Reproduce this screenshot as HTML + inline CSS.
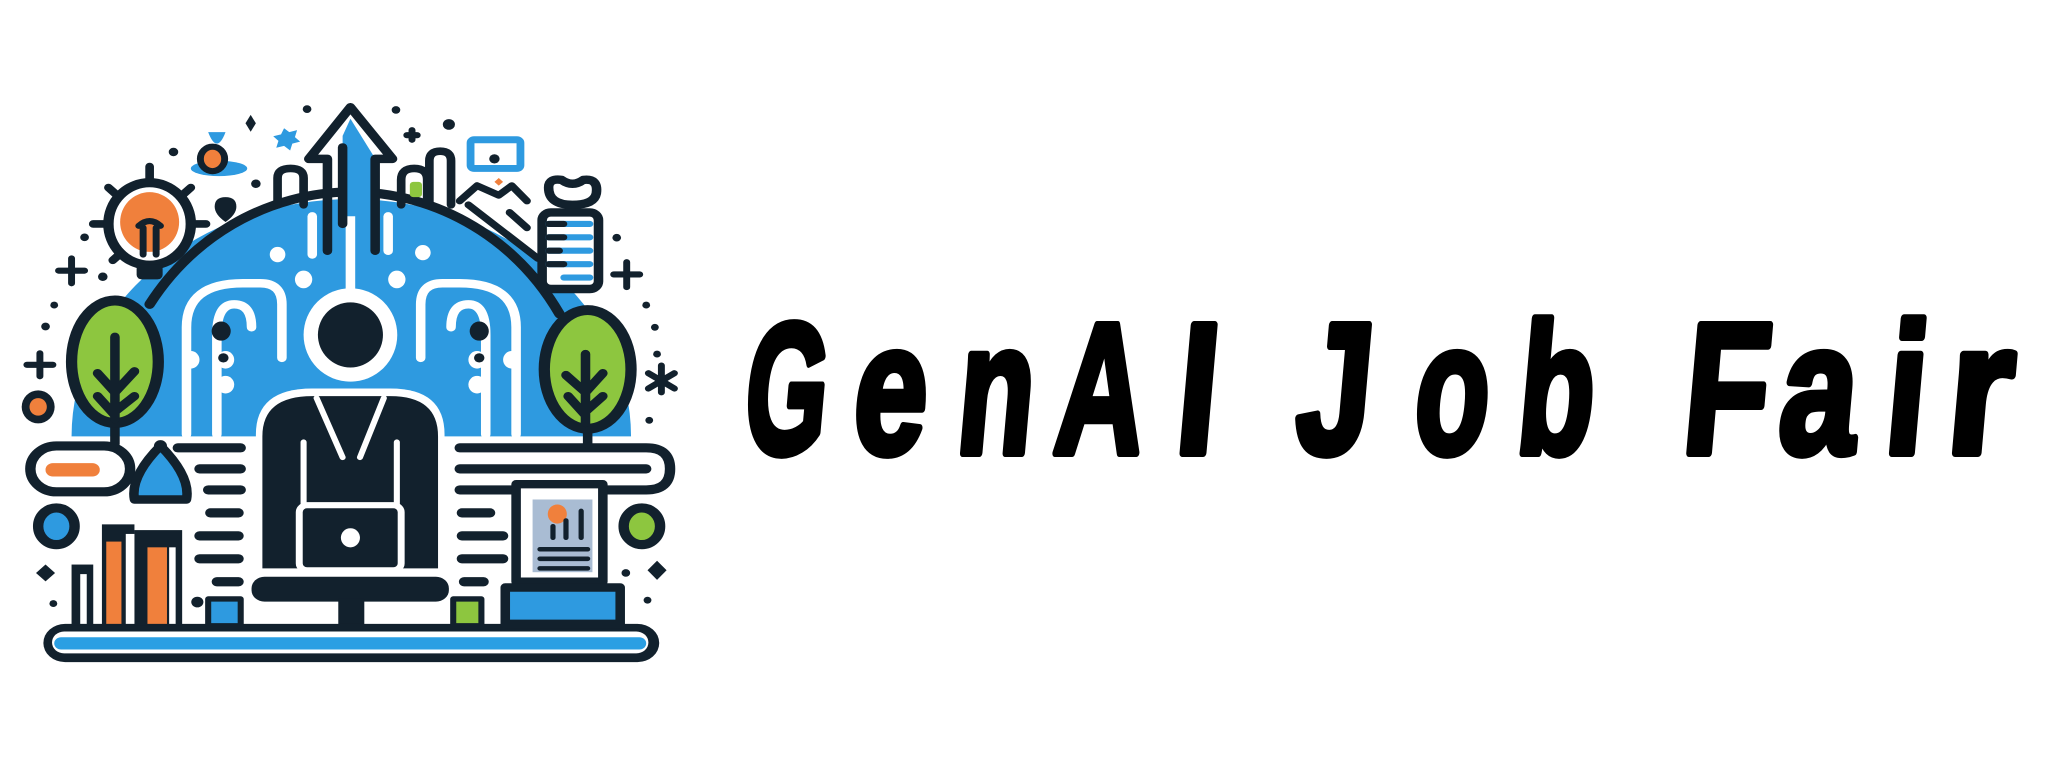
<!DOCTYPE html>
<html><head><meta charset="utf-8"><style>
html,body{margin:0;padding:0;background:#fff;}
svg{display:block;}
</style></head><body>
<svg width="2048" height="767" viewBox="0 0 2048 767" xmlns="http://www.w3.org/2000/svg">
<rect width="2048" height="767" fill="#fff"/>
<g transform="translate(0,90) scale(0.4337,0.3827)" stroke-linecap="round" stroke-linejoin="round">
  <path d="M165 905 A645 620 0 0 1 1455 905 Z" fill="#2e9ae0"/>
  <path d="M345 560 A560 660 0 0 1 1290 585" fill="none" stroke="#12212d" stroke-width="24"/>
  <g fill="none" stroke="#fff" stroke-width="22">
    <path d="M430 900 V620 Q430 505 560 505 H600 Q650 505 650 560 V700"/>
    <path d="M500 900 V640 Q500 560 540 560 Q580 560 580 620"/>
    <path d="M1190 900 V620 Q1190 505 1060 505 H1020 Q970 505 970 560 V700"/>
    <path d="M1120 900 V640 Q1120 560 1080 560 Q1040 560 1040 620"/>
    <path d="M808 330 V520"/>
    <path d="M720 330 V430"/><path d="M895 330 V420"/>
  </g>
  <g fill="#fff">
    <ellipse cx="700" cy="495" rx="20" ry="23"/><ellipse cx="915" cy="495" rx="20" ry="23"/>
    <ellipse cx="640" cy="430" rx="18" ry="20"/><ellipse cx="975" cy="425" rx="18" ry="20"/>
    <ellipse cx="440" cy="705" rx="20" ry="23"/><ellipse cx="520" cy="705" rx="20" ry="23"/><ellipse cx="520" cy="770" rx="20" ry="23"/>
    <ellipse cx="1100" cy="705" rx="20" ry="23"/><ellipse cx="1180" cy="705" rx="20" ry="23"/><ellipse cx="1100" cy="770" rx="20" ry="23"/>
  </g>
  <g fill="#12212d"><ellipse cx="510" cy="630" rx="22" ry="25"/><ellipse cx="1105" cy="630" rx="22" ry="25"/><circle cx="515" cy="700" r="12"/><circle cx="1105" cy="700" r="12"/></g>
  <ellipse cx="808" cy="640" rx="108" ry="122" fill="#fff"/>
  <ellipse cx="808" cy="640" rx="75" ry="85" fill="#12212d"/>
  <path d="M590 1260 V900 Q590 780 720 780 H900 Q1025 780 1025 900 V1260 Z" fill="#fff"/>
  <path d="M605 1250 V905 Q605 800 720 800 H900 Q1010 800 1010 905 V1250 Z" fill="#12212d"/>
  <path d="M730 805 L790 960 M885 805 L830 960 M700 920 V1080 M915 920 V1080" stroke="#fff" stroke-width="14" fill="none"/>
  <rect x="690" y="1085" width="235" height="170" rx="18" fill="#12212d" stroke="#fff" stroke-width="16"/>
  <ellipse cx="808" cy="1170" rx="22" ry="25" fill="#fff"/>
  <rect x="580" y="1272" width="455" height="65" rx="30" fill="#12212d"/>
  <rect x="780" y="1330" width="60" height="70" fill="#12212d"/>
  <rect x="100" y="1395" width="1420" height="100" rx="50" fill="#12212d"/>
  <rect x="120" y="1415" width="1375" height="57" rx="28" fill="#fff"/>
  <rect x="125" y="1430" width="1365" height="32" rx="16" fill="#2a9fe3"/>
  <rect x="70" y="930" width="230" height="120" rx="60" fill="#fff" stroke="#12212d" stroke-width="24"/>
  <rect x="105" y="975" width="125" height="35" rx="17" fill="#f0803c"/>
  <path d="M1060 935 H1490 Q1545 935 1545 990 Q1545 1045 1490 1045 H1060 M1060 990 H1490" fill="none" stroke="#12212d" stroke-width="24"/>
  <g stroke="#12212d" stroke-width="24" fill="none">
    <path d="M410 935 H555 M460 990 H555 M480 1045 H555 M485 1105 H550 M460 1165 H550 M460 1225 H550 M500 1285 H550"/>
    <path d="M1065 1105 H1130 M1065 1165 H1160 M1065 1225 H1160 M1070 1285 H1115"/>
  </g>
  <path d="M370 930 Q300 1010 310 1070 H430 Q440 1010 370 930 Z" fill="#2e9ae0" stroke="#12212d" stroke-width="22"/>
  <circle cx="370" cy="930" r="15" fill="#12212d"/>
  <g fill="#12212d">
    <rect x="165" y="1240" width="50" height="160"/>
    <rect x="235" y="1135" width="75" height="265"/>
    <rect x="310" y="1150" width="110" height="250"/>
  </g>
  <rect x="185" y="1265" width="15" height="130" fill="#fff"/>
  <rect x="245" y="1180" width="35" height="215" fill="#f0803c"/>
  <rect x="340" y="1195" width="45" height="200" fill="#f0803c"/>
  <rect x="290" y="1160" width="20" height="235" fill="#fff"/>
  <rect x="390" y="1195" width="15" height="200" fill="#fff"/>
  <rect x="480" y="1330" width="75" height="70" fill="#2e9ae0" stroke="#12212d" stroke-width="14"/>
  <rect x="1045" y="1330" width="65" height="70" fill="#8dc63f" stroke="#12212d" stroke-width="14"/>
  <rect x="1190" y="1030" width="200" height="255" fill="#fff" stroke="#12212d" stroke-width="22"/>
  <rect x="1228" y="1070" width="138" height="190" fill="#a9bcd3"/>
  <ellipse cx="1285" cy="1108" rx="22" ry="25" fill="#f0803c"/>
  <path d="M1275 1170 V1140 M1305 1170 V1125 M1340 1170 V1100 M1245 1200 H1355 M1245 1225 H1355 M1245 1250 H1355" stroke="#12212d" stroke-width="12"/>
  <rect x="1165" y="1300" width="265" height="95" fill="#2e9ae0" stroke="#12212d" stroke-width="22"/>
  <ellipse cx="130" cy="1140" rx="42" ry="48" fill="#2e9ae0" stroke="#12212d" stroke-width="24"/>
  <ellipse cx="1480" cy="1140" rx="42" ry="48" fill="#8dc63f" stroke="#12212d" stroke-width="24"/>
  <g>
    <path d="M265 925 V860" stroke="#12212d" stroke-width="22"/>
    <ellipse cx="265" cy="710" rx="100" ry="160" fill="#8dc63f" stroke="#12212d" stroke-width="26"/>
    <path d="M265 645 V860 M265 790 L225 740 M265 790 L310 735 M265 850 L225 800 M265 840 L310 800" stroke="#12212d" stroke-width="22" fill="none"/>
  </g>
  <g>
    <path d="M1355 925 V870" stroke="#12212d" stroke-width="22"/>
    <ellipse cx="1355" cy="730" rx="100" ry="155" fill="#8dc63f" stroke="#12212d" stroke-width="26"/>
    <path d="M1350 690 V870 M1350 790 L1305 745 M1350 790 L1390 740 M1350 850 L1310 800 M1350 840 L1390 800" stroke="#12212d" stroke-width="22" fill="none"/>
  </g>
  <g>
    <path d="M345 200 V230 M250 255 L270 275 M440 255 L420 275 M215 350 H245 M445 350 H475 M260 445 L280 425" stroke="#12212d" stroke-width="20"/>
    <ellipse cx="345" cy="350" rx="95" ry="108" fill="#fff" stroke="#12212d" stroke-width="24"/>
    <ellipse cx="345" cy="345" rx="68" ry="78" fill="#f0803c"/>
    <path d="M330 430 V360 M360 430 V360 M320 355 Q345 330 370 355" stroke="#12212d" stroke-width="16" fill="none"/>
    <rect x="315" y="455" width="60" height="40" rx="12" fill="#12212d"/>
  </g>
  <path d="M790 120 L808 75 L860 170 V330 H790 Z" fill="#2e9ae0"/>
  <path d="M808 45 L905 180 L865 180 V420 M712 180 L808 45 M712 180 L755 180 V420 M790 150 V350" fill="none" stroke="#12212d" stroke-width="22"/>
  <path d="M640 300 V230 Q640 205 670 205 Q700 205 700 230 V300" fill="none" stroke="#12212d" stroke-width="20"/>
  <path d="M925 300 V235 Q925 205 955 205 Q985 205 985 235 V300 M990 300 V185 Q990 160 1015 160 Q1040 160 1040 185 V300" fill="none" stroke="#12212d" stroke-width="20"/>
  <rect x="945" y="240" width="28" height="40" rx="8" fill="#8dc63f"/>
  <path d="M1060 290 L1100 250 L1150 275 L1180 250 L1215 290 M1080 300 L1240 440 M1175 320 L1215 360" fill="none" stroke="#12212d" stroke-width="18"/>
  <rect x="1085" y="130" width="115" height="75" rx="8" fill="none" stroke="#2e9ae0" stroke-width="18"/>
  <circle cx="1140" cy="180" r="12" fill="#12212d"/>
  <path d="M1150 230 l10 10 l-10 10 l-10 -10 z" fill="#f0803c"/>
  <g>
    <rect x="1250" y="320" width="130" height="200" rx="20" fill="#fff" stroke="#12212d" stroke-width="22"/>
    <path d="M1265 255 Q1265 230 1295 235 Q1320 255 1345 235 Q1380 230 1375 270 Q1370 300 1320 300 Q1265 300 1265 255 Z" fill="#fff" stroke="#12212d" stroke-width="22"/>
    <path d="M1265 350 H1360 M1265 385 H1360 M1265 420 H1360 M1265 455 H1360 M1300 490 H1360" stroke="#2e9ae0" stroke-width="16"/>
    <path d="M1265 350 H1300 M1265 385 H1300 M1265 420 H1290 M1265 455 H1300" stroke="#12212d" stroke-width="16"/>
  </g>
  <ellipse cx="505" cy="205" rx="65" ry="20" fill="#2e9ae0"/>
  <ellipse cx="490" cy="180" rx="28" ry="32" fill="#f0803c" stroke="#12212d" stroke-width="16"/>
  <path d="M480 110 Q490 140 500 140 Q510 140 520 110" fill="#2e9ae0"/>
  <path d="M520 280 q-25 0 -25 25 q0 20 25 40 q25 -20 25 -40 q0 -25 -25 -25z" fill="#12212d"/>
  <path d="M655 100 l12 10 l18 -5 l-5 18 l12 12 l-18 5 l-5 18 l-14 -12 l-18 5 l5 -18 l-12 -12 l18 -5z" fill="#2e9ae0"/>
  <g fill="#12212d">
    <circle cx="708" cy="50" r="10"/><circle cx="913" cy="52" r="10"/><circle cx="1035" cy="90" r="14"/>
    <circle cx="400" cy="162" r="11"/><circle cx="590" cy="245" r="11"/><circle cx="195" cy="385" r="10"/>
    <circle cx="237" cy="488" r="11"/><circle cx="125" cy="562" r="9"/><circle cx="105" cy="618" r="10"/>
    <circle cx="1422" cy="386" r="10"/><circle cx="1490" cy="562" r="9"/><circle cx="1510" cy="620" r="9"/>
    <circle cx="1515" cy="690" r="9"/><circle cx="1497" cy="863" r="9"/><circle cx="1443" cy="1262" r="10"/>
    <circle cx="1493" cy="1333" r="9"/><circle cx="123" cy="1342" r="9"/><circle cx="455" cy="1338" r="14"/>
    <path d="M578 65 l12 22 l-12 22 l-12 -22z"/>
    <path d="M105 1240 l22 22 l-22 22 l-22 -22z"/><path d="M1515 1230 l22 25 l-22 25 l-22 -25z"/>
  </g>
  <path d="M165 440 V505 M135 472 H195 M92 688 V748 M62 718 H122 M950 105 V130 M938 118 H962 M1445 450 V515 M1415 482 H1475 M1525 720 V790 M1495 740 L1555 780 M1495 780 L1555 740" stroke="#12212d" stroke-width="16"/>
  <ellipse cx="88" cy="828" rx="38" ry="43" fill="#12212d"/><ellipse cx="88" cy="828" rx="20" ry="23" fill="#f0803c"/>
</g>
<g font-family="'Liberation Sans', sans-serif" font-weight="bold" font-size="186" fill="#000" stroke="#000" stroke-width="8" stroke-linejoin="round">
  <text transform="translate(741,453) skewX(-5)" textLength="82" lengthAdjust="spacingAndGlyphs">G</text>
  <text transform="translate(850,453) skewX(-5)" textLength="73" lengthAdjust="spacingAndGlyphs">e</text>
  <text transform="translate(954,453) skewX(-5)" textLength="76" lengthAdjust="spacingAndGlyphs">n</text>
  <text transform="translate(1052,453) skewX(-5)" textLength="88" lengthAdjust="spacingAndGlyphs">A</text>
  <text transform="translate(1173,453) skewX(-5)" textLength="40" lengthAdjust="spacingAndGlyphs">I</text>
  <text transform="translate(1293,453) skewX(-5)" textLength="74" lengthAdjust="spacingAndGlyphs">J</text>
  <text transform="translate(1411,453) skewX(-5)" textLength="74" lengthAdjust="spacingAndGlyphs">o</text>
  <text transform="translate(1514,453) skewX(-5)" textLength="76" lengthAdjust="spacingAndGlyphs">b</text>
  <text transform="translate(1680,453) skewX(-5)" textLength="84" lengthAdjust="spacingAndGlyphs">F</text>
  <text transform="translate(1776,453) skewX(-5)" textLength="77" lengthAdjust="spacingAndGlyphs">a</text>
  <text transform="translate(1882,453) skewX(-5)" textLength="40" lengthAdjust="spacingAndGlyphs">i</text>
  <text transform="translate(1944,453) skewX(-5)" textLength="64" lengthAdjust="spacingAndGlyphs">r</text>
</g>
</svg>
</body></html>
